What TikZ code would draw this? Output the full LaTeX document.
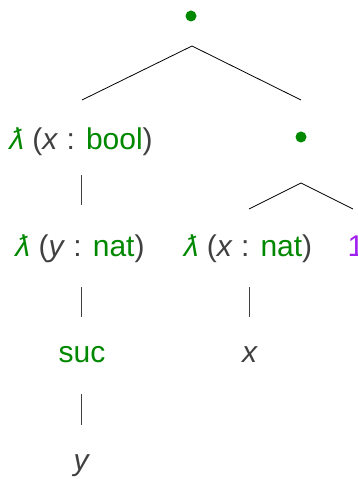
\documentclass[tikz,border=0pt]{standalone}
\usepackage{fontspec}
\setmainfont{Liberation Sans}
\definecolor{tgreen}{RGB}{0,136,0}
\definecolor{tpurple}{RGB}{160,32,240}
\definecolor{tgray}{RGB}{64,64,64}
\begin{document}
\begin{tikzpicture}[x=1pt,y=1pt,
  lbl/.style={font=\fontsize{30}{34}\selectfont, text=tgray, inner sep=0pt, anchor=base},
  dotnode/.style={circle, fill=tgreen, inner sep=0pt, minimum size=11pt},
  edge/.style={draw=black, line width=0.8pt},
  vedge/.style={draw=tgray, line width=0.8pt}]
\useasboundingbox (0,0) rectangle (357,479);
\newcommand{\lam}{\textcolor{tgreen}{\itshape ƛ}}
% nodes
\node[dotnode] (top) at (191,463) {};
\node[lbl] (lb) at (81,329) {\lam\ (\textit{x} : \textcolor{tgreen}{bool})};
\node[dotnode] (dot2) at (301,342) {};
\node[lbl] (ly) at (80,222) {\lam\ (\textit{y} : \textcolor{tgreen}{nat})};
\node[lbl] (lx) at (248,222) {\lam\ (\textit{x} : \textcolor{tgreen}{nat})};
\node[lbl, text=tpurple] (one) at (356,222) {1};
\node[lbl, text=tgreen] (suc) at (82,116) {suc};
\node[lbl] (xv) at (250,116) {\textit{x}};
\node[lbl] (yv) at (82,9) {\textit{y}};
% connector coordinates
\coordinate (a1) at (192,433);
\coordinate (l1) at (82,379);
\coordinate (r1) at (301,379);
\coordinate (a2) at (301,296);
\coordinate (l2) at (249,270);
\coordinate (r2) at (353,270);
\coordinate (v1t) at (81,304); \coordinate (v1b) at (81,274);
\coordinate (v2t) at (81,192); \coordinate (v2b) at (81,162);
\coordinate (v3t) at (81,85);  \coordinate (v3b) at (81,54);
\coordinate (v4t) at (249,192); \coordinate (v4b) at (249,162);
\draw[edge] (l1) -- (a1) -- (r1);
\draw[edge] (l2) -- (a2) -- (r2);
\draw[vedge] (v1t) -- (v1b);
\draw[vedge] (v2t) -- (v2b);
\draw[vedge] (v3t) -- (v3b);
\draw[vedge] (v4t) -- (v4b);
\end{tikzpicture}
\end{document}
